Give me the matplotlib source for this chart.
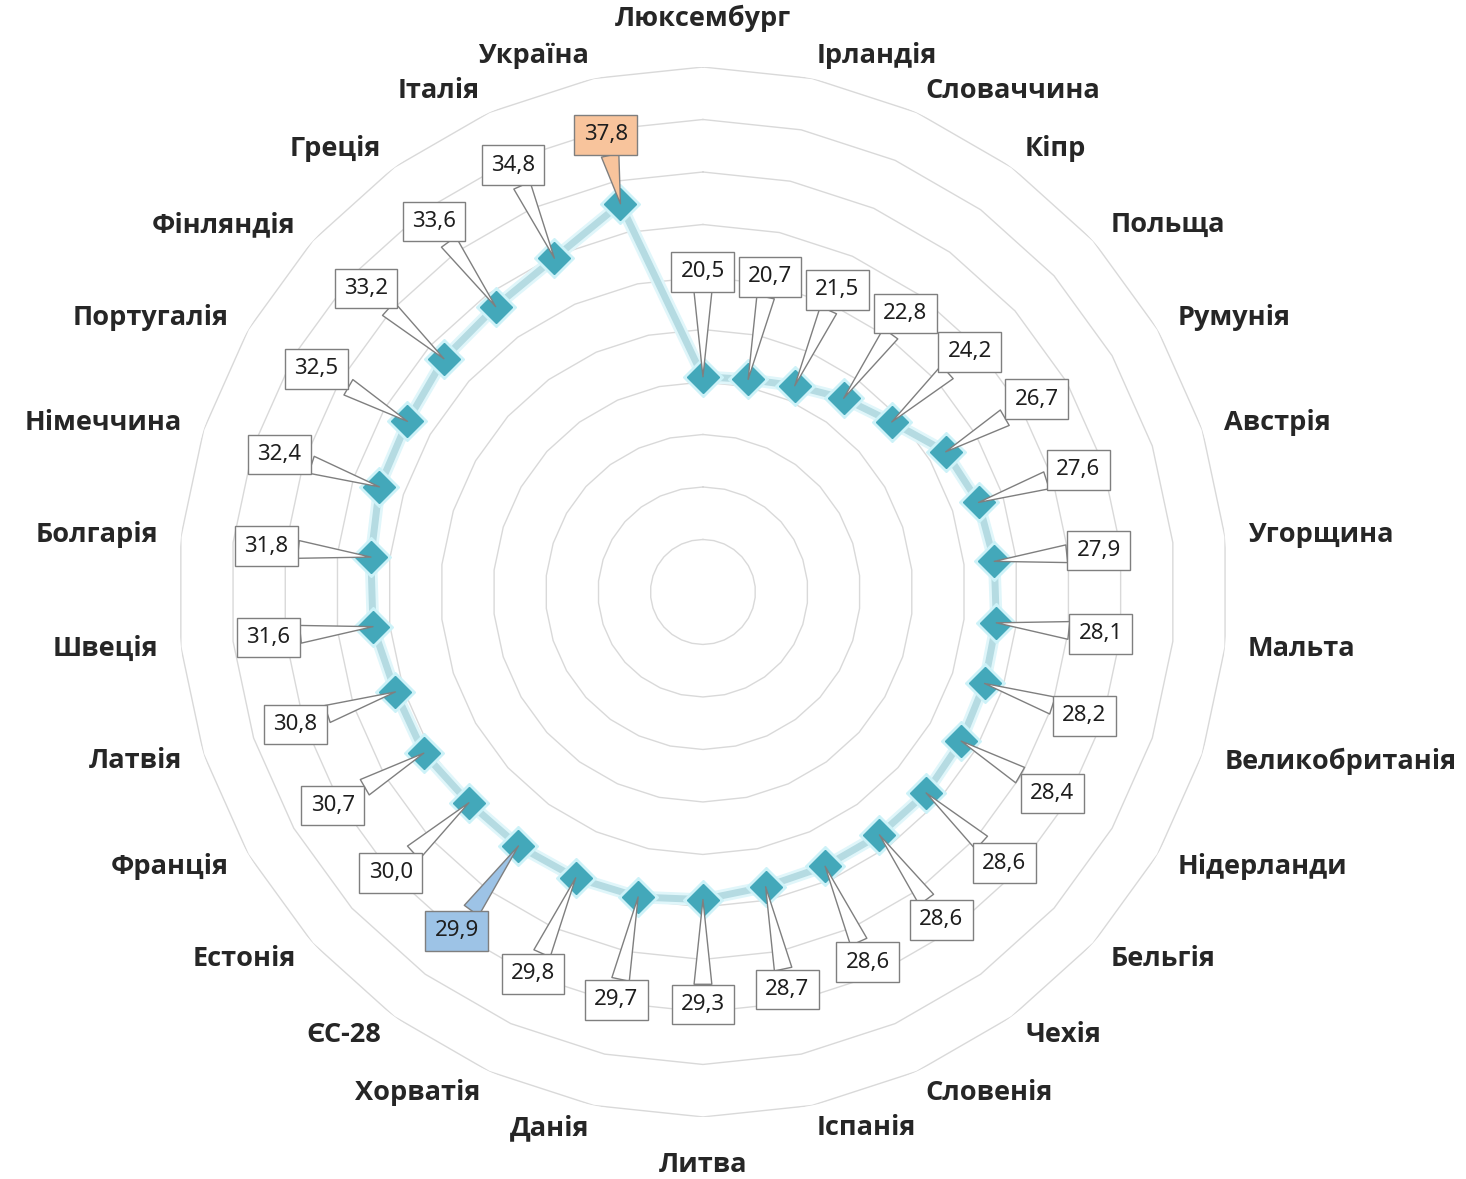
import numpy as np
import matplotlib
matplotlib.use('Agg')
import matplotlib.pyplot as plt
from matplotlib import font_manager

# країни по колу, за годинниковою стрілкою від верху
countries = ['Люксембург', 'Ірландія', 'Словаччина', 'Кіпр', 'Польща', 'Румунія',
             'Австрія', 'Угорщина', 'Мальта', 'Великобританія', 'Нідерланди',
             'Бельгія', 'Чехія', 'Словенія', 'Іспанія', 'Литва', 'Данія', 'Хорватія',
             'ЄС-28', 'Естонія', 'Франція', 'Латвія', 'Швеція', 'Болгарія',
             'Німеччина', 'Португалія', 'Фінляндія', 'Греція', 'Італія', 'Україна']
values = [20.5, 20.7, 21.5, 22.8, 24.2, 26.7, 27.6, 27.9, 28.1, 28.2,
          28.4, 28.6, 28.6, 28.6, 28.7, 29.3, 29.7, 29.8, 29.9, 30.0,
          30.7, 30.8, 31.6, 31.8, 32.4, 32.5, 33.2, 33.6, 34.8, 37.8]
highlight = {'Україна': '#f8c49c', 'ЄС-28': '#9dc3e6'}
grid_levels = [5, 10, 15, 20, 25, 30, 35, 40, 45, 50]

# шукаємо шрифт, у якого є жирне накреслення
bold_family = 'DejaVu Sans'
for fam in ['Noto Sans', 'Open Sans', 'Roboto', 'Liberation Sans']:
    if any(f.name == fam and f.weight in ('bold', 700, 'heavy', 800, 600, 'semibold')
           for f in font_manager.fontManager.ttflist):
        bold_family = fam
        break

plt.rcParams['font.family'] = ['Noto Sans', 'DejaVu Sans']

fig = plt.figure(figsize=(14.66, 11.79), dpi=100)
ax = fig.add_axes([0.1214, 0.0526, 0.7162, 0.8906], projection='polar')
ax.set_theta_zero_location('N')
ax.set_theta_direction(-1)
ax.set_ylim(0, 50)
ax.set_xticks([])
ax.set_yticks([])
ax.grid(False)
ax.spines['polar'].set_visible(False)

n = len(countries)
theta = np.arange(n) * 2 * np.pi / n
th_closed = np.append(theta, theta[0])

# сітка - багатокутники як в Excel
for r in grid_levels:
    ax.plot(th_closed, np.full(n + 1, r), color='#d9d9d9', lw=1.0, zorder=1)

v = np.array(values)
v_closed = np.append(v, v[0])
ax.plot(th_closed, v_closed, color='#e0f6fa', lw=9, solid_joinstyle='round', zorder=2)
ax.plot(th_closed, v_closed, color='#b5dbe2', lw=5, solid_joinstyle='round', zorder=3)
ax.plot(theta, v, 'D', ms=20, color='#cdf2f8', zorder=4)
ax.plot(theta, v, 'D', ms=16, color='#43a8ba', zorder=5)

# підписи значень
for name, th, val in zip(countries, theta, values):
    lr = min(val + 10, 44.5)
    fc = highlight.get(name, 'white')
    ax.annotate(f'{val:.1f}'.replace('.', ','), xy=(th, val), xytext=(th, lr),
                ha='center', va='center', fontsize=16, color='#1e1e1e',
                bbox=dict(boxstyle='square,pad=0.42', fc=fc, ec='#7f7f7f', lw=1),
                arrowprops=dict(arrowstyle='wedge,tail_width=0.8', fc=fc, ec='#7f7f7f',
                                lw=1, shrinkA=0, shrinkB=0),
                zorder=6)

# назви країн
for name, th in zip(countries, theta):
    s, c = np.sin(th), np.cos(th)
    if abs(s) < 0.05:
        ha = 'center'
        va = 'bottom' if c > 0 else 'top'
        lr = 53.3
    else:
        ha = 'left' if s > 0 else 'right'
        va = 'center'
        lr = 52.2
    ax.text(th, lr, name, ha=ha, va=va, fontsize=19.5, fontweight='bold',
            family=[bold_family, 'DejaVu Sans'], color='#262626')

fig.savefig('out.png', dpi=100, facecolor='white')
